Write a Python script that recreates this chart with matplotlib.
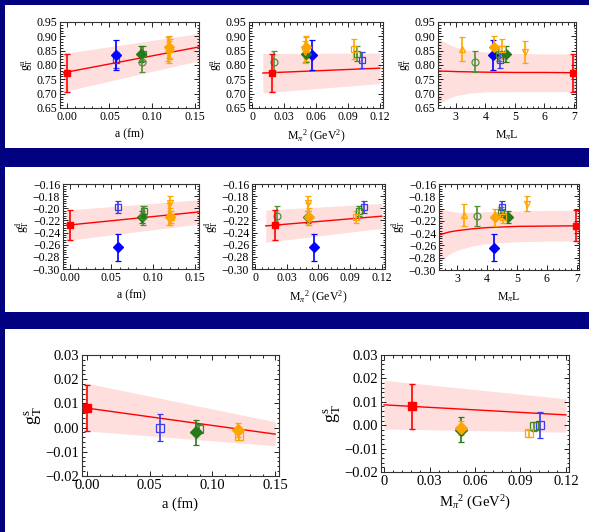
import matplotlib
matplotlib.use("Agg")
import matplotlib.pyplot as plt
from matplotlib.patches import Rectangle
from matplotlib.ticker import AutoMinorLocator, FuncFormatter, FixedLocator

plt.rcParams['font.family'] = ['Liberation Serif', 'DejaVu Serif']
plt.rcParams['mathtext.fontset'] = 'custom'
plt.rcParams['mathtext.rm'] = 'Liberation Serif'
plt.rcParams['mathtext.it'] = 'Liberation Serif:italic'

# ensembles: a06m310, a06m220, a09m310, a09m220, a09m130, a12m310, a12m220S, a12m220, a12m220L
ens_marker = ['s', 'D', 's', 'D', 'o', 's', '^', 'D', 'v']
ens_color  = ['#3b3bf0', '#0000ff', '#3f8a2a', '#267a1a', '#4f8f3a',
              '#ffa500', '#ffa500', '#ffa500', '#ffa500']
ens_filled = [False, True, False, True, False, False, False, True, False]
ens_a    = [0.058, 0.058, 0.089, 0.087, 0.088, 0.121, 0.119, 0.120, 0.120]
ens_mpi2 = [0.1028, 0.0558, 0.0987, 0.0505, 0.0205, 0.0959, 0.0505, 0.0510, 0.0500]
ens_mpil = [4.50, 4.25, 4.48, 4.70, 3.66, 4.55, 3.22, 4.28, 5.35]

# g_T^u
gu_val = [0.818, 0.835, 0.840, 0.838, 0.812, 0.855, 0.856, 0.862, 0.845]
gu_err = [0.028, 0.051, 0.025, 0.028, 0.036, 0.035, 0.043, 0.038, 0.038]
# g_T^d
gd_val = [-0.198, -0.264, -0.205, -0.214, -0.212, -0.214, -0.210, -0.214, -0.192]
gd_err = [0.010, 0.022, 0.008, 0.010, 0.016, 0.010, 0.018, 0.014, 0.012]
# g_T^s (only five ensembles)
gs_idx = [0, 2, 3, 5, 7]
gs_val = [0.0000, -0.0005, -0.0020, -0.0035, -0.0010]
gs_err = [0.0055, 0.0018, 0.0053, 0.0015, 0.0030]

# extrapolated (physical point) values
phys_a, phys_mpi2, phys_mpil = 0.0, 0.0185, 6.97
gu_phys, gu_phys_err = 0.773, 0.066
gd_phys, gd_phys_err = -0.228, 0.025
gs_phys, gs_phys_err = 0.008, 0.0095

# fit lines / bands
fit_a_x      = [-0.004, 0.155]
fit_a_u      = [0.773, 0.863]
fit_a_u_lo   = [0.707, 0.815]
fit_a_u_hi   = [0.840, 0.910]
fit_m_x      = [0.010, 0.120]
fit_m_u      = [0.772, 0.789]
fit_m_u_lo   = [0.703, 0.735]
fit_m_u_hi   = [0.840, 0.842]
fit_l_x      = [2.40, 2.75, 3.00, 3.50, 4.00, 5.00, 6.00, 7.07]
fit_l_u      = [0.779, 0.778, 0.777, 0.776, 0.775, 0.774, 0.774, 0.773]
fit_l_u_lo   = [0.665, 0.683, 0.693, 0.702, 0.706, 0.707, 0.707, 0.707]
fit_l_u_hi   = [0.893, 0.873, 0.862, 0.850, 0.845, 0.840, 0.839, 0.839]

fit_a_d      = [-0.228, -0.206]
fit_a_d_lo   = [-0.253, -0.226]
fit_a_d_hi   = [-0.203, -0.186]
fit_m_d      = [-0.229, -0.213]
fit_m_d_lo   = [-0.256, -0.233]
fit_m_d_hi   = [-0.203, -0.192]
fit_l_d      = [-0.243, -0.238, -0.236, -0.233, -0.231, -0.229, -0.2285, -0.228]
fit_l_d_lo   = [-0.287, -0.274, -0.268, -0.261, -0.257, -0.254, -0.253, -0.253]
fit_l_d_hi   = [-0.200, -0.204, -0.206, -0.206, -0.205, -0.204, -0.203, -0.203]

fit_as_x     = [-0.002, 0.150]
fit_a_s      = [0.0082, -0.0027]
fit_a_s_lo   = [-0.0013, -0.0075]
fit_a_s_hi   = [0.0185, 0.0024]
fit_ms_x     = [0.000, 0.120]
fit_m_s      = [0.0087, 0.0044]
fit_m_s_lo   = [-0.0016, -0.0030]
fit_m_s_hi   = [0.0192, 0.0113]

NAVY = '#000080'
BAND = '#ffdede'
RED = '#ff0000'

W, H = 589, 532
fig = plt.figure(figsize=(W / 100, H / 100), dpi=100, facecolor=NAVY)

# white slides
for (x0, y0, x1, y1) in [(5, 5, 589, 148), (5, 167, 589, 312), (5, 329, 589, 532)]:
    fig.add_artist(Rectangle((x0 / W, 1 - y1 / H), (x1 - x0) / W, (y1 - y0) / H,
                             transform=fig.transFigure, facecolor='white',
                             edgecolor='none', zorder=0))


def make_ax(x0, y0, x1, y1):
    return fig.add_axes([x0 / W, 1 - y1 / H, (x1 - x0) / W, (y1 - y0) / H])


def fmt2(v, pos):
    return f"{v:.2f}".replace('-', '\u2212')


def fmt_m(v, pos):
    if abs(v) < 1e-9:
        return '0'
    return f"{v:.2f}"


def fmt_int(v, pos):
    return f"{v:.0f}"


def panel(ax, xs, ys, es, idx, fx, fy, flo, fhi, px, py, pe,
          xlim, ylim, xticks, xfmt, yticks, xlabel, ylabel, fs, lfs, yfs, ms):
    ax.fill_between(fx, flo, fhi, color=BAND, lw=0, zorder=1)
    ax.plot(fx, fy, color=RED, lw=1.0, zorder=2)
    for k, i in enumerate(idx):
        c = ens_color[i]
        ax.errorbar(xs[i], ys[k], yerr=es[k], fmt=ens_marker[i], color=c,
                    mec=c, mfc=c if ens_filled[i] else 'none', ms=ms,
                    mew=0.9, elinewidth=1.2, capsize=2, capthick=1.0, zorder=3)
    ax.errorbar(px, py, yerr=pe, fmt='s', color=RED, ms=ms - 0.5,
                elinewidth=1.2, capsize=2, capthick=1.0, zorder=4)
    ax.set_xlim(*xlim)
    ax.set_ylim(*ylim)
    ax.xaxis.set_major_locator(FixedLocator(xticks))
    ax.xaxis.set_major_formatter(FuncFormatter(xfmt))
    ax.yaxis.set_major_locator(FixedLocator(yticks))
    ax.yaxis.set_major_formatter(FuncFormatter(fmt2))
    ax.xaxis.set_minor_locator(AutoMinorLocator(5))
    ax.yaxis.set_minor_locator(AutoMinorLocator(5))
    ax.tick_params(which='both', direction='in', top=True, right=True,
                   labelsize=fs, width=0.6, pad=2)
    ax.tick_params(which='major', length=3.5)
    ax.tick_params(which='minor', length=1.8)
    for sp in ax.spines.values():
        sp.set_linewidth(0.8)
        sp.set_color('#333333')
    ax.set_xlabel(xlabel, fontsize=lfs, labelpad=4)
    ax.set_ylabel(ylabel, fontsize=yfs, labelpad=1)


all_idx = list(range(9))
a_ticks = [0.0, 0.05, 0.10, 0.15]
m_ticks = [0.0, 0.03, 0.06, 0.09, 0.12]
l_ticks = [3, 4, 5, 6, 7]
u_ticks = [0.65, 0.70, 0.75, 0.80, 0.85, 0.90, 0.95]
d_ticks = [-0.30, -0.28, -0.26, -0.24, -0.22, -0.20, -0.18, -0.16]
s_ticks = [-0.02, -0.01, 0.0, 0.01, 0.02, 0.03]

lab_a = 'a (fm)'
lab_m = r'M$_\pi$$^2$ (GeV$^2$)'
lab_l = r'M$_\pi$L'
lab_u = r'$\mathrm{g}_\mathrm{T}^\mathrm{u}$'
lab_d = r'$\mathrm{g}_\mathrm{T}^\mathrm{d}$'
lab_s = r'$\mathrm{g}_\mathrm{T}^\mathrm{s}$'

TFS, TLF, TYF, TMS = 8.5, 8.5, 8.5, 5
BFS, BLF, BYF, BMS = 10.5, 10.5, 13, 6

# top row: g_T^u
ax = make_ax(60, 22, 199, 108)
panel(ax, ens_a, gu_val, gu_err, all_idx, fit_a_x, fit_a_u, fit_a_u_lo, fit_a_u_hi,
      phys_a, gu_phys, gu_phys_err, (-0.008, 0.155), (0.65, 0.95), a_ticks, fmt2,
      u_ticks, lab_a, lab_u, TFS, TLF, TYF, TMS)
ax = make_ax(249, 22, 383, 108)
panel(ax, ens_mpi2, gu_val, gu_err, all_idx, fit_m_x, fit_m_u, fit_m_u_lo, fit_m_u_hi,
      phys_mpi2, gu_phys, gu_phys_err, (-0.003, 0.123), (0.65, 0.95), m_ticks, fmt_m,
      u_ticks, lab_m, lab_u, TFS, TLF, TYF, TMS)
ax = make_ax(438, 22, 576, 108)
panel(ax, ens_mpil, gu_val, gu_err, all_idx, fit_l_x, fit_l_u, fit_l_u_lo, fit_l_u_hi,
      phys_mpil, gu_phys, gu_phys_err, (2.4, 7.07), (0.65, 0.95), l_ticks, fmt_int,
      u_ticks, lab_l, lab_u, TFS, TLF, TYF, TMS)

# middle row: g_T^d
ax = make_ax(63, 184, 199, 269)
panel(ax, ens_a, gd_val, gd_err, all_idx, fit_a_x, fit_a_d, fit_a_d_lo, fit_a_d_hi,
      phys_a, gd_phys, gd_phys_err, (-0.008, 0.155), (-0.30, -0.16), a_ticks, fmt2,
      d_ticks, lab_a, lab_d, TFS, TLF, TYF, TMS)
ax = make_ax(252, 184, 385, 269)
panel(ax, ens_mpi2, gd_val, gd_err, all_idx, fit_m_x, fit_m_d, fit_m_d_lo, fit_m_d_hi,
      phys_mpi2, gd_phys, gd_phys_err, (-0.003, 0.123), (-0.30, -0.16), m_ticks, fmt_m,
      d_ticks, lab_m, lab_d, TFS, TLF, TYF, TMS)
ax = make_ax(439, 184, 579, 270)
panel(ax, ens_mpil, gd_val, gd_err, all_idx, fit_l_x, fit_l_d, fit_l_d_lo, fit_l_d_hi,
      phys_mpil, gd_phys, gd_phys_err, (2.4, 7.07), (-0.30, -0.16), l_ticks, fmt_int,
      d_ticks, lab_l, lab_d, TFS, TLF, TYF, TMS)

# bottom row: g_T^s
ax = make_ax(82, 355, 279, 476)
panel(ax, ens_a, gs_val, gs_err, gs_idx, fit_as_x, fit_a_s, fit_a_s_lo, fit_a_s_hi,
      phys_a, gs_phys, gs_phys_err, (-0.004, 0.153), (-0.02, 0.03), a_ticks, fmt2,
      s_ticks, lab_a, lab_s, BFS, BLF, BYF, BMS)
ax = make_ax(381, 355, 569, 472)
panel(ax, ens_mpi2, gs_val, gs_err, gs_idx, fit_ms_x, fit_m_s, fit_m_s_lo, fit_m_s_hi,
      phys_mpi2, gs_phys, gs_phys_err, (-0.002, 0.122), (-0.02, 0.03), m_ticks, fmt_m,
      s_ticks, lab_m, lab_s, BFS, BLF, BYF, BMS)

fig.savefig("out.png", dpi=100, facecolor=NAVY)
